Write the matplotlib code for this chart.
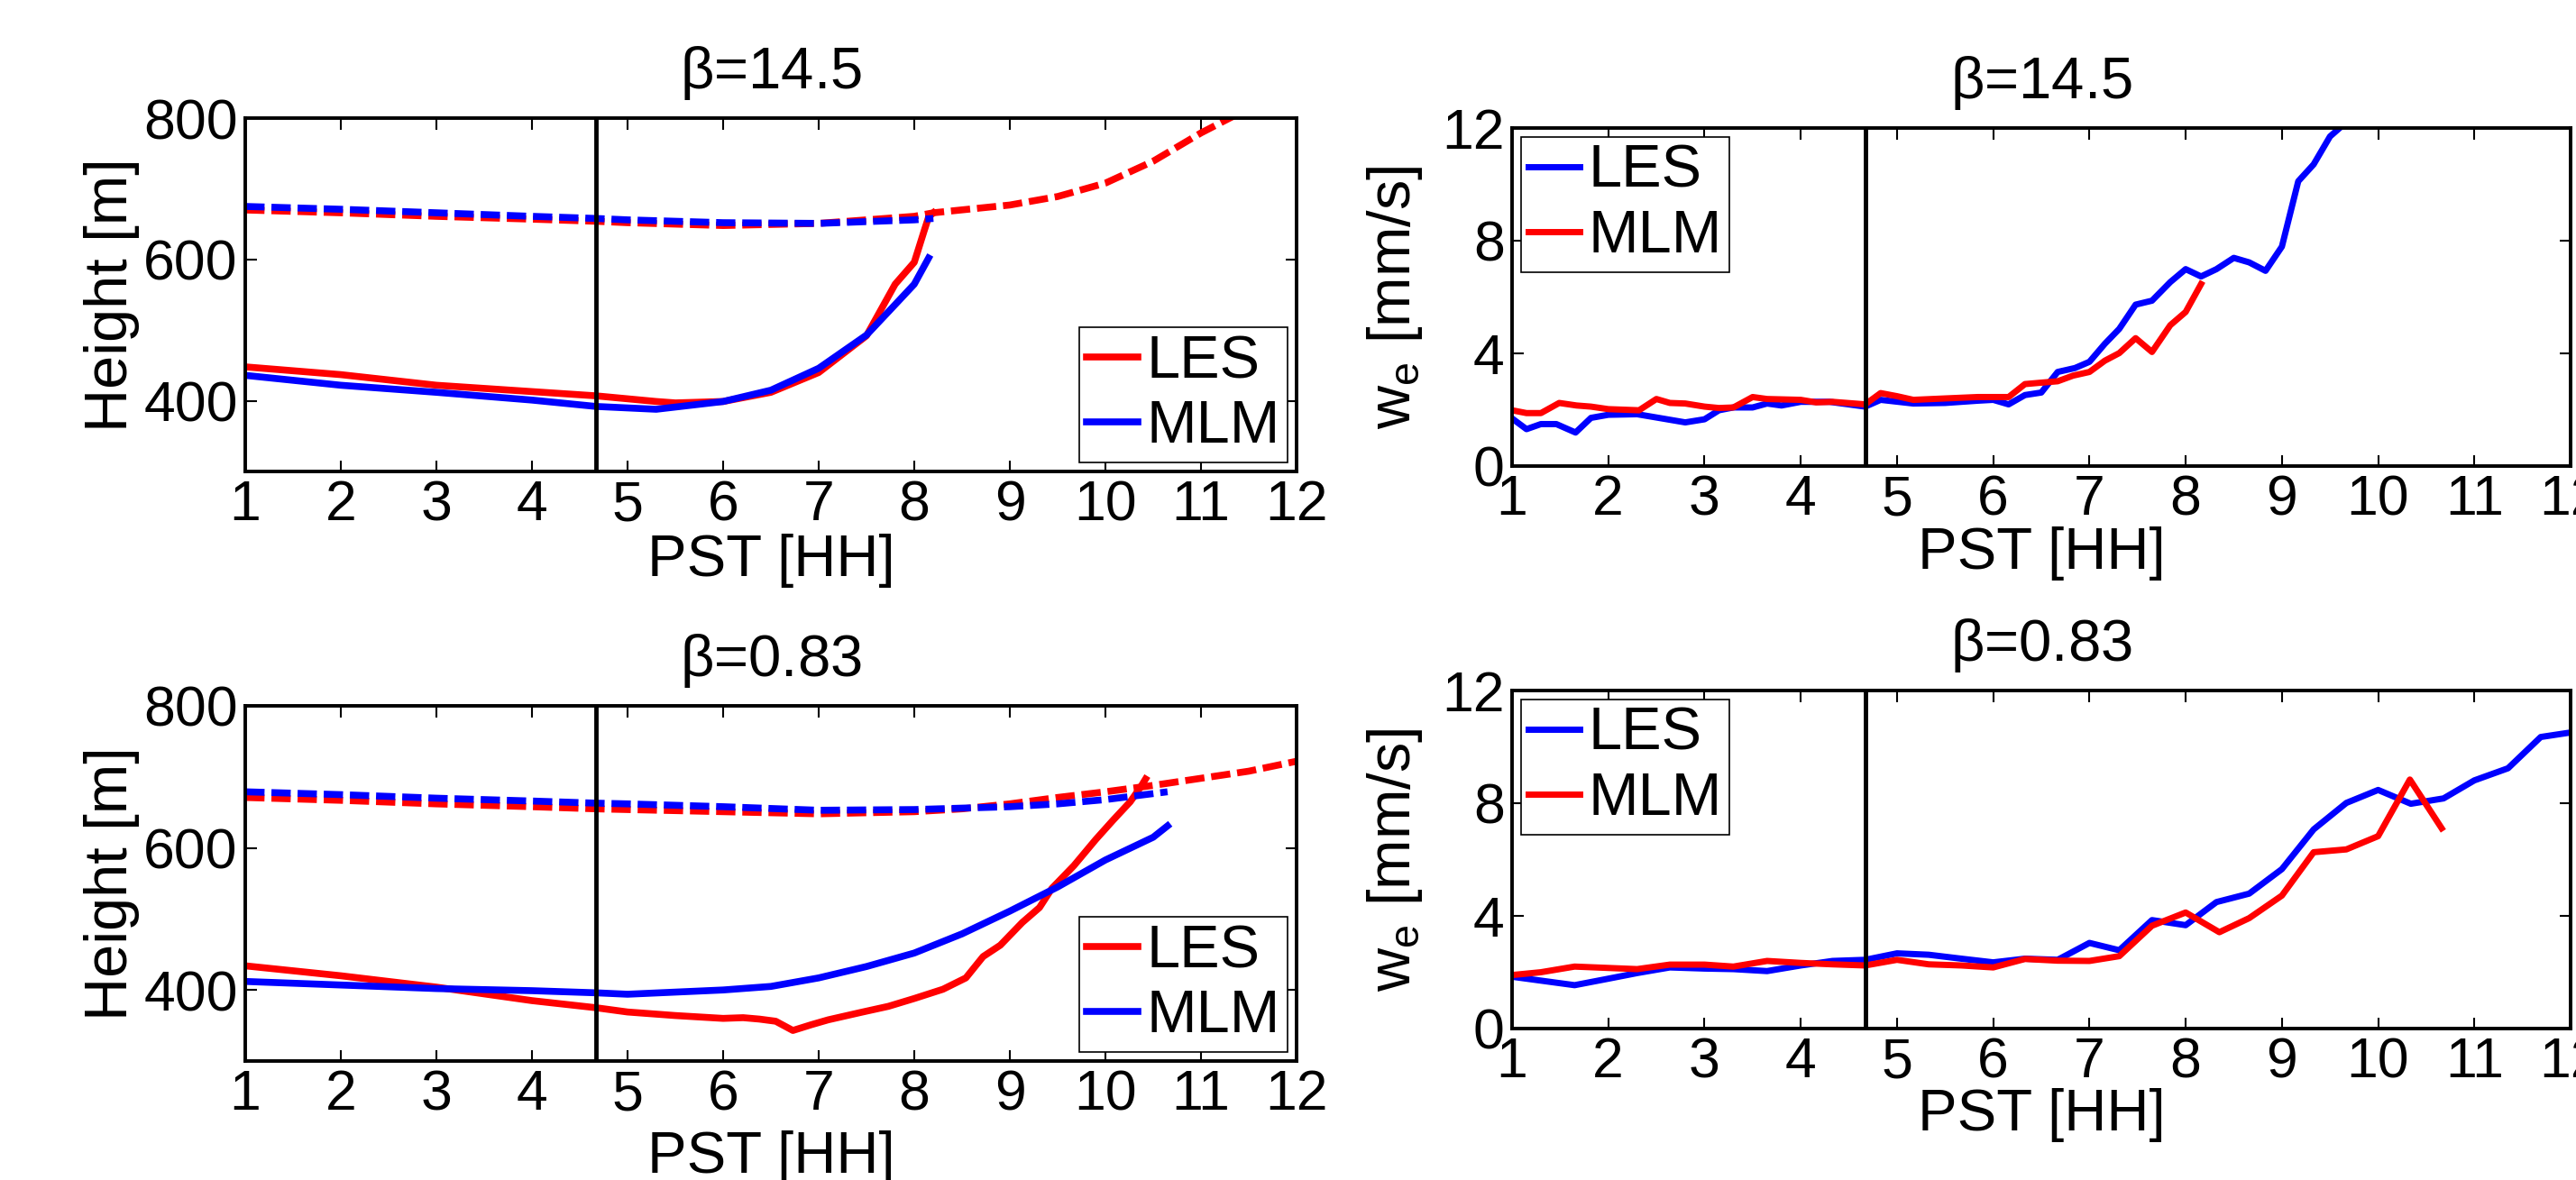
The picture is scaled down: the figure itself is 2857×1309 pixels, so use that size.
import matplotlib
matplotlib.use("Agg")
import matplotlib.pyplot as plt

plt.rcParams['font.family'] = ['Liberation Sans', 'DejaVu Sans']
plt.rcParams['mathtext.fontset'] = 'custom'
plt.rcParams['mathtext.rm'] = 'Liberation Sans'

hours = list(range(1, 13))
t_event = 4.67

# ---- beta = 14.5, heights [m]
t14_les_top = [1, 2, 3, 4, 4.67, 5, 6, 7, 8, 8.2, 9, 9.5, 10, 10.5, 11, 11.3, 11.6]
h14_les_top = [670, 666, 661, 657, 654, 652, 648, 651, 661, 666, 677, 689, 708, 739, 779, 800, 820]
t14_mlm_top = [1, 2, 3, 4, 4.67, 5, 6, 7, 8, 8.2]
h14_mlm_top = [675, 671, 666, 661, 658, 656, 652, 651, 656, 658]
t14_les_bot = [1, 2, 3, 4, 4.67, 5.3, 5.5, 6, 6.5, 7, 7.5, 7.8, 8, 8.1, 8.15, 8.2]
h14_les_bot = [448, 437, 422, 413, 407, 399, 397, 399, 412, 440, 492, 565, 596, 639, 660, 666]
t14_mlm_bot = [1, 2, 3, 4, 4.67, 5.3, 6, 6.5, 7, 7.5, 7.82, 8, 8.15]
h14_mlm_bot = [436, 422, 412, 401, 392, 388, 399, 415, 446, 493, 539, 565, 602]

# ---- beta = 0.83, heights [m]
t083_les_top = [1, 2, 3, 4, 4.67, 5, 6, 7, 8, 8.5, 9, 9.5, 10, 10.5, 11, 11.5, 12]
h083_les_top = [671, 667, 662, 658, 655, 654, 651, 648, 651, 655, 662, 671, 679, 688, 698, 708, 722]
t083_mlm_top = [1, 2, 3, 4, 4.67, 5, 6, 7, 8, 9, 9.5, 10, 10.65]
h083_mlm_top = [679, 675, 670, 666, 663, 662, 658, 653, 654, 658, 662, 668, 679]
t083_les_bot = [1, 2, 3, 4, 4.67, 5, 5.5, 6, 6.21, 6.38, 6.55, 6.73, 6.92, 7.1, 7.46, 7.73, 8,
                8.3, 8.54, 8.72, 8.9, 9.13, 9.31, 9.44, 9.67, 9.9, 10.08, 10.26, 10.37, 10.42]
h083_les_bot = [434, 420, 404, 385, 375, 369, 364, 360, 361, 359, 356, 343, 351, 358, 369, 377, 388,
                401, 417, 447, 463, 495, 516, 543, 575, 612, 639, 665, 686, 697]
t083_mlm_bot = [1, 2, 3, 4, 4.67, 5, 6, 6.5, 7, 7.5, 8, 8.5, 9, 9.5, 10, 10.5, 10.65]
h083_mlm_bot = [412, 407, 402, 399, 396, 394, 400, 405, 417, 433, 452, 479, 511, 545, 583, 615, 631]

# ---- beta = 14.5, entrainment velocity [mm/s]
t14_les_we = [1, 1.15, 1.3, 1.46, 1.66, 1.82, 2, 2.3, 2.8, 3, 3.15, 3.3, 3.5, 3.65, 3.8, 4,
              4.3, 4.67, 4.83, 5.17, 5.5, 5.84, 6, 6.16, 6.33, 6.5, 6.67, 6.85, 7, 7.16,
              7.31, 7.48, 7.65, 7.84, 8, 8.16, 8.32, 8.5, 8.66, 8.83, 9, 9.17, 9.33, 9.5, 9.6]
w14_les = [1.69, 1.31, 1.49, 1.49, 1.19, 1.71, 1.82, 1.84, 1.55, 1.66, 1.98, 2.08, 2.08, 2.22, 2.15, 2.28,
           2.28, 2.11, 2.35, 2.22, 2.24, 2.32, 2.35, 2.19, 2.52, 2.61, 3.34, 3.48, 3.70, 4.34,
           4.87, 5.73, 5.87, 6.53, 6.99, 6.73, 6.99, 7.39, 7.23, 6.93, 7.79, 10.11, 10.71, 11.70, 12.0]
t14_mlm_we = [1, 1.15, 1.3, 1.49, 1.67, 1.82, 2, 2.32, 2.5, 2.64, 2.8, 3, 3.15, 3.3, 3.5, 3.65, 4,
              4.16, 4.33, 4.67, 4.83, 5, 5.17, 5.5, 5.84, 6.16, 6.33, 6.67, 6.83, 7, 7.16, 7.31,
              7.48, 7.65, 7.84, 8, 8.16]
w14_mlm = [1.98, 1.88, 1.88, 2.24, 2.15, 2.11, 2.02, 1.98, 2.38, 2.24, 2.22, 2.11, 2.06, 2.08, 2.45, 2.38, 2.35,
           2.26, 2.28, 2.19, 2.59, 2.48, 2.35, 2.40, 2.45, 2.45, 2.91, 3.01, 3.21, 3.34, 3.74, 4.01,
           4.54, 4.05, 5.00, 5.47, 6.46]

# ---- beta = 0.83, entrainment velocity [mm/s]
t083_les_we = [1, 1.65, 2, 2.3, 2.64, 3, 3.3, 3.65, 4, 4.33, 4.67, 5, 5.33, 5.67, 6, 6.33, 6.67,
               7, 7.31, 7.65, 8, 8.32, 8.66, 9, 9.33, 9.67, 10, 10.34, 10.68, 11, 11.35, 11.69, 12]
w083_les = [1.84, 1.54, 1.77, 1.97, 2.17, 2.13, 2.11, 2.04, 2.24, 2.40, 2.44, 2.67, 2.62, 2.48, 2.35, 2.48, 2.44,
            3.04, 2.78, 3.85, 3.67, 4.49, 4.79, 5.66, 7.07, 8.01, 8.47, 7.98, 8.17, 8.81, 9.24, 10.35, 10.51]
t083_mlm_we = [1, 1.3, 1.65, 2.3, 2.64, 3, 3.3, 3.65, 4, 4.33, 4.67, 5, 5.33, 5.67, 6, 6.33, 6.67,
               7, 7.31, 7.65, 8, 8.35, 8.66, 9, 9.33, 9.67, 10, 10.33, 10.66]
w083_mlm = [1.90, 2.00, 2.20, 2.11, 2.27, 2.27, 2.20, 2.40, 2.33, 2.28, 2.24, 2.44, 2.28, 2.24, 2.17, 2.47, 2.41,
            2.40, 2.57, 3.65, 4.12, 3.42, 3.92, 4.72, 6.26, 6.36, 6.83, 8.84, 7.11]

W, H = 2857, 1309
FS = 45


def box(left, top, right, bottom):
    return [left / W, 1 - bottom / H, (right - left) / W, (bottom - top) / H]


def style(ax, title, ylabel, ylim, yticks, xlab_y, ylab_pad):
    ax.set_xlim(1, 12)
    ax.set_xticks(hours)
    ax.set_ylim(*ylim)
    ax.set_yticks(yticks)
    ax.tick_params(direction='in', top=True, right=True, length=9, width=1.5,
                   labelsize=FS, pad=6)
    for s in ax.spines.values():
        s.set_linewidth(2.8)
    ax.set_title(title, fontsize=47, pad=24)
    ax.set_xlabel('PST [HH]', fontsize=47)
    ax.xaxis.set_label_coords(0.5, xlab_y)
    ax.set_ylabel(ylabel, fontsize=48, labelpad=ylab_pad)
    ax.axvline(t_event, color='k', lw=3.5)


def legend(ax, loc):
    leg = ax.legend(loc=loc, fontsize=48, handlelength=0.85, handletextpad=0.15,
                    borderpad=0.12, labelspacing=0.15, borderaxespad=0.15,
                    fancybox=False, edgecolor='k', framealpha=1)
    leg.get_frame().set_linewidth(1.2)


fig = plt.figure(figsize=(W / 100, H / 100), dpi=100)
ax_tl = fig.add_axes(box(272, 131, 1438, 523))
ax_tr = fig.add_axes(box(1677, 142, 2851, 517))
ax_bl = fig.add_axes(box(272, 783, 1438, 1177))
ax_br = fig.add_axes(box(1677, 766, 2851, 1141))

dash = (2.8, 1.0)
lw = 5.5

# left panels: boundary layer heights
for ax, d in [(ax_tl, (t14_les_bot, h14_les_bot, t14_mlm_bot, h14_mlm_bot,
                       t14_les_top, h14_les_top, t14_mlm_top, h14_mlm_top)),
              (ax_bl, (t083_les_bot, h083_les_bot, t083_mlm_bot, h083_mlm_bot,
                       t083_les_top, h083_les_top, t083_mlm_top, h083_mlm_top))]:
    ax.plot(d[0], d[1], color='red', lw=lw, label='LES')
    ax.plot(d[2], d[3], color='blue', lw=lw, label='MLM')
    ax.plot(d[4], d[5], color='red', lw=lw, dashes=dash)
    ax.plot(d[6], d[7], color='blue', lw=lw, dashes=dash)

style(ax_tl, r'$\mathregular{\beta}$=14.5', 'Height [m]', (300, 800), [400, 600, 800], -0.175, 3)
style(ax_bl, r'$\mathregular{\beta}$=0.83', 'Height [m]', (300, 800), [400, 600, 800], -0.195, 3)
legend(ax_tl, 'lower right')
legend(ax_bl, 'lower right')

# right panels: entrainment velocity
ax_tr.plot(t14_les_we, w14_les, color='blue', lw=5, label='LES')
ax_tr.plot(t14_mlm_we, w14_mlm, color='red', lw=5, label='MLM')
ax_br.plot(t083_les_we, w083_les, color='blue', lw=5, label='LES')
ax_br.plot(t083_mlm_we, w083_mlm, color='red', lw=5, label='MLM')

we_label = r'$\mathregular{w_e}$ [mm/s]'
style(ax_tr, r'$\mathregular{\beta}$=14.5', we_label, (0, 12), [0, 4, 8, 12], -0.18, 14)
style(ax_br, r'$\mathregular{\beta}$=0.83', we_label, (0, 12), [0, 4, 8, 12], -0.176, 14)
legend(ax_tr, 'upper left')
legend(ax_br, 'upper left')

fig.savefig('out.png', dpi=100)
